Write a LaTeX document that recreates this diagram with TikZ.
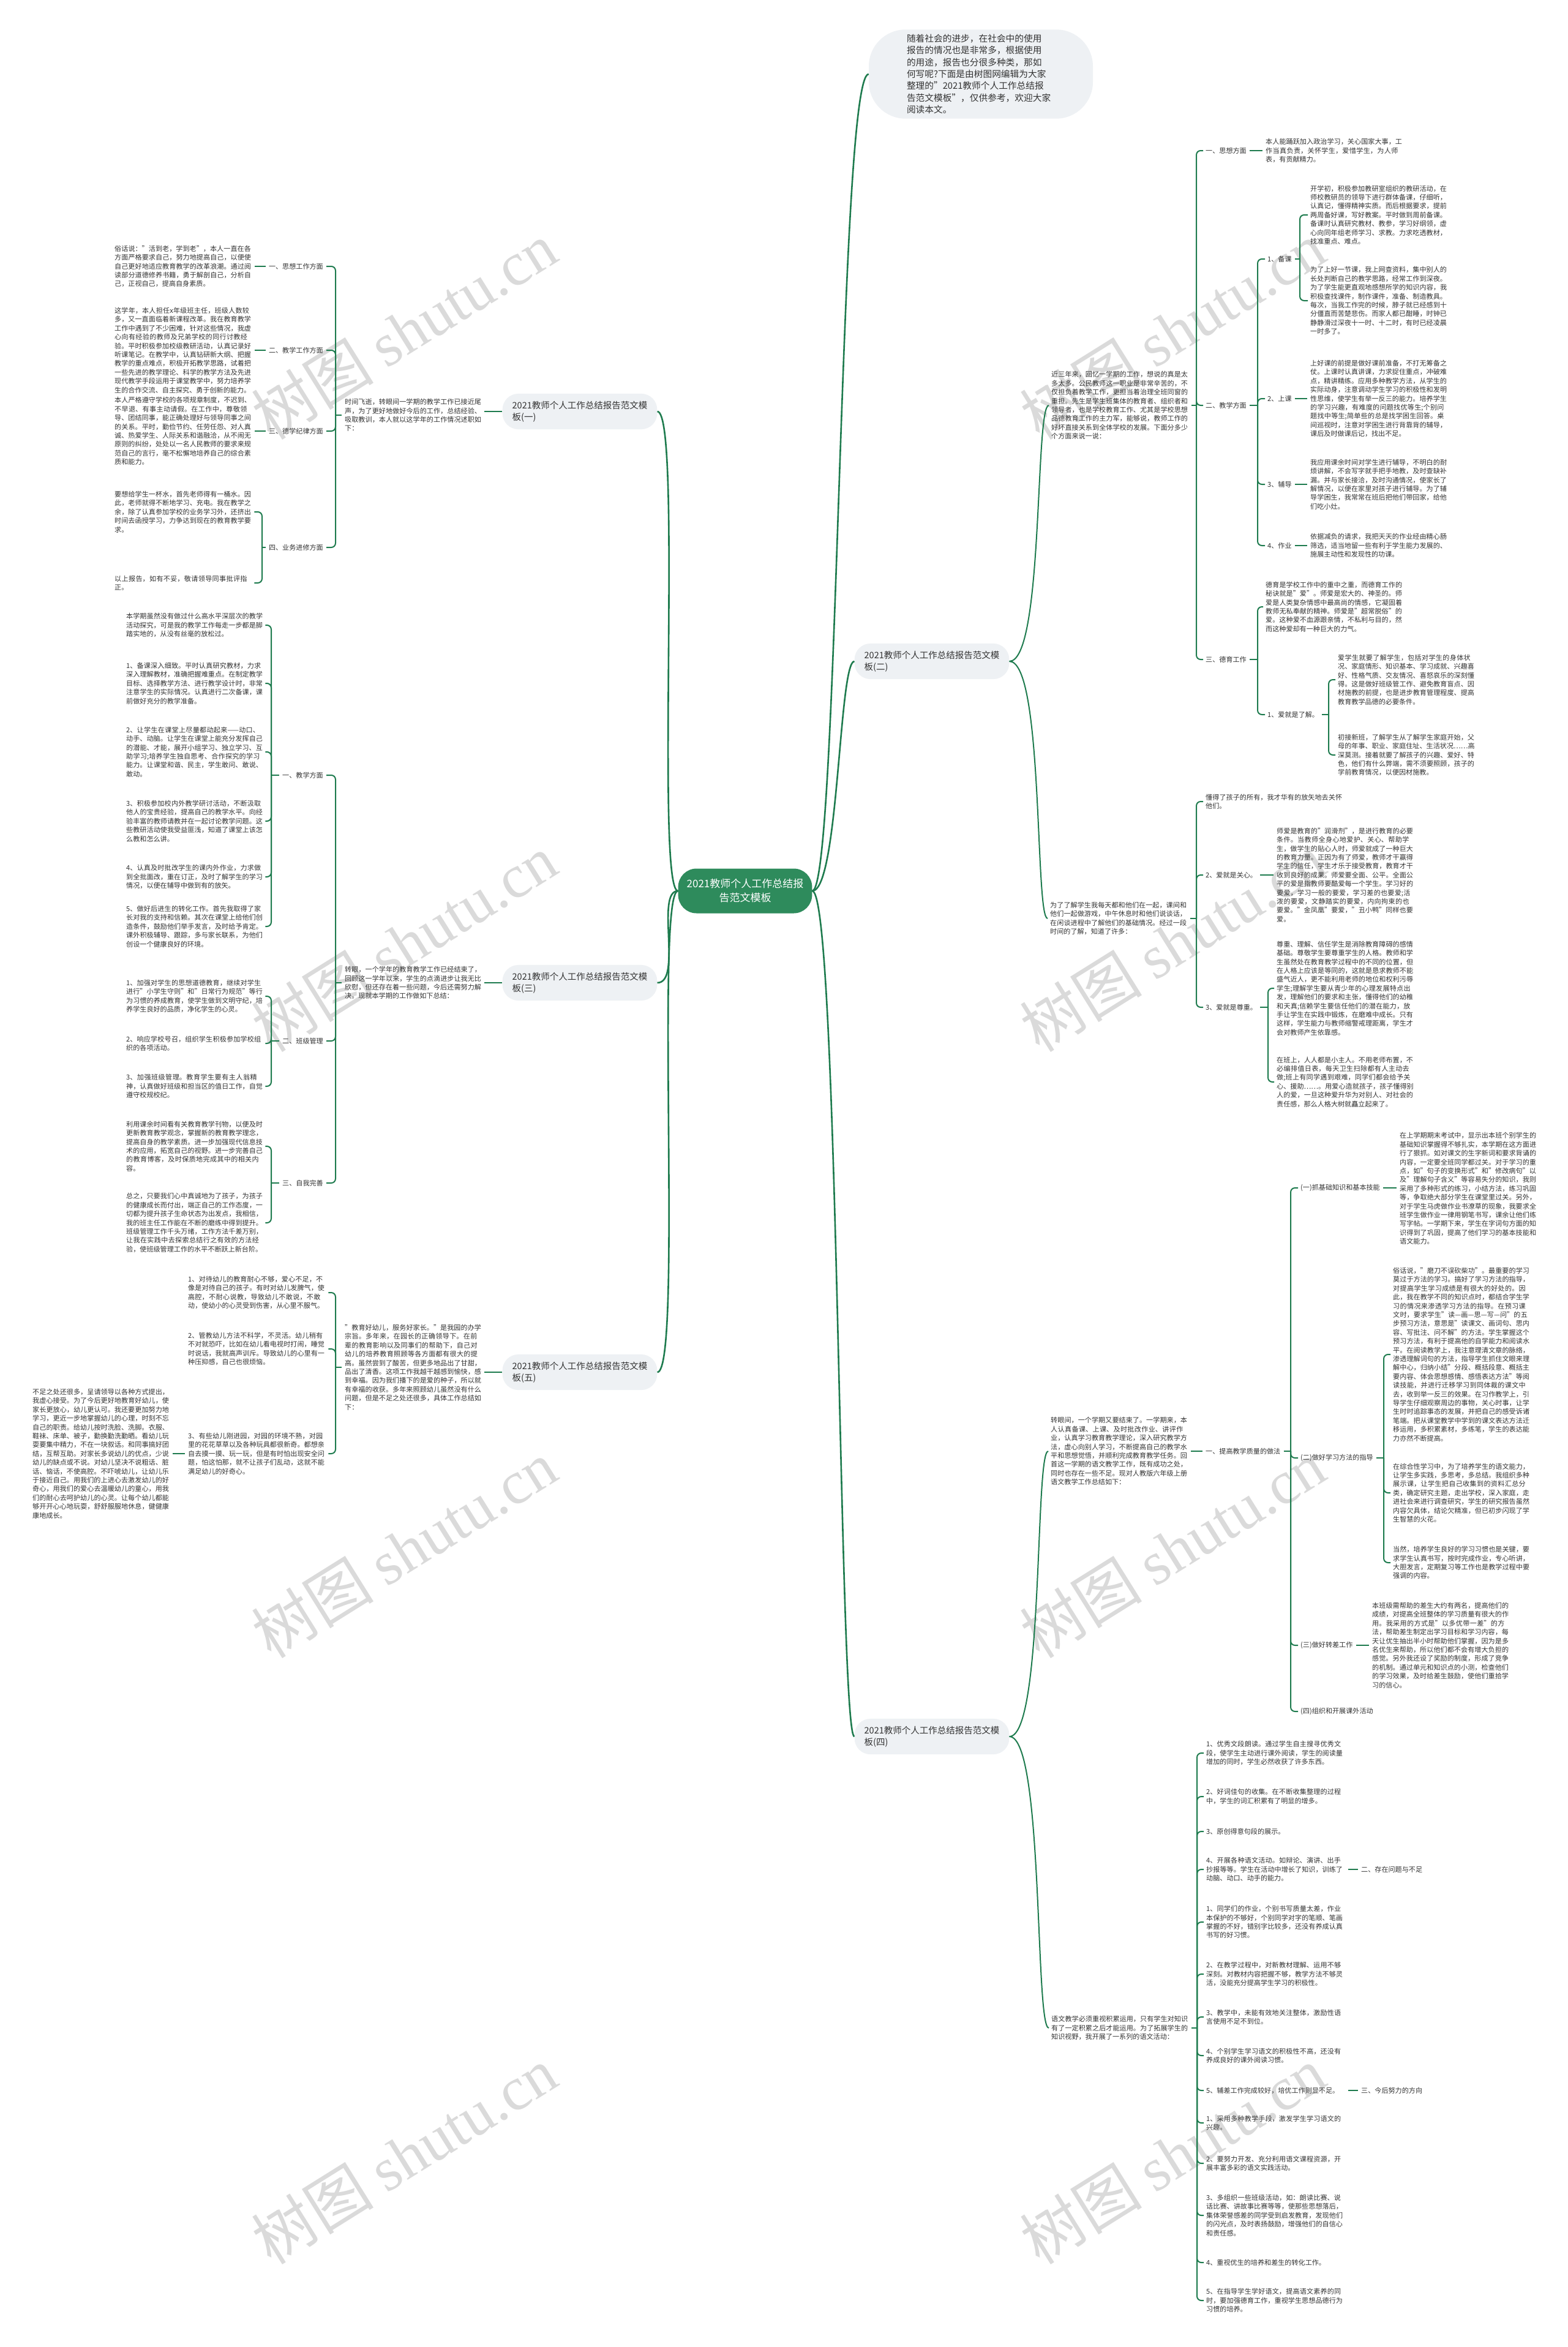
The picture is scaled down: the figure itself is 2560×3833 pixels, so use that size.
\documentclass[tikz,border=0pt]{standalone}
\usepackage{fontspec}
\setmainfont{Noto Sans CJK SC}
\newfontfamily\wmlatin{Liberation Serif}
\usetikzlibrary{calc}
\XeTeXlinebreaklocale "zh"
\XeTeXlinebreakskip=0pt plus 1pt
\definecolor{lc}{HTML}{1E7B4E}
\definecolor{bgc}{HTML}{EEF1F4}
\definecolor{cgc}{HTML}{2E8B5C}
\definecolor{tc}{HTML}{333333}
\definecolor{wmc}{HTML}{DADADA}
\newcommand\tfont{\fontsize{11.1}{14.4}\selectfont}
\newcommand\bubfont{\fontsize{14.5}{19}\selectfont}
\newcommand\introfont{\fontsize{14.7}{19.3}\selectfont}
\newcommand\cenfont{\fontsize{17}{23}\selectfont}
\newcommand\wmfont{\fontsize{100}{110}\selectfont}
\tikzset{
  con/.style={draw=lc, line width=2pt},
  conr/.style={con, rounded corners=7pt},
  mcon/.style={draw=lc, line width=2.6pt},
  txt/.style={font=\tfont, text=tc, text width=224pt, align=left, inner sep=0pt, anchor=west},
  lbl/.style={font=\tfont, text=tc, inner sep=0pt, anchor=west},
  lble/.style={font=\tfont, text=tc, inner sep=0pt, anchor=east},
  bub/.style={fill=bgc, rounded corners=26pt, font=\bubfont, text=tc, align=left, inner xsep=16pt, inner ysep=12pt},
  wm/.style={font=\wmfont, text=wmc, rotate=32, inner sep=0pt},
}
\begin{document}
\begin{tikzpicture}[x=1pt,y=-1pt]
\fill[white] (0,0) rectangle (2560,3833);
\useasboundingbox (0,0) rectangle (2560,3833);
% watermarks
\node[wm] (w1) at (660,540) {树图 {\wmlatin shutu.cn}};
\node[wm] (w2) at (1915,540) {树图 {\wmlatin shutu.cn}};
\node[wm] (w3) at (660,1540) {树图 {\wmlatin shutu.cn}};
\node[wm] (w4) at (1915,1540) {树图 {\wmlatin shutu.cn}};
\node[wm] (w5) at (660,2530) {树图 {\wmlatin shutu.cn}};
\node[wm] (w6) at (1915,2530) {树图 {\wmlatin shutu.cn}};
\node[wm] (w7) at (660,3520) {树图 {\wmlatin shutu.cn}};
\node[wm] (w8) at (1915,3520) {树图 {\wmlatin shutu.cn}};

% center and intro
\node[fill=cgc, text=white, font=\cenfont, rounded corners=30pt, align=center, minimum width=217pt, minimum height=73pt, inner xsep=14pt] (c) at (1217,1455) {2021教师个人工作总结报\\告范文模板};
\node[fill=bgc, rounded corners=60pt, font=\introfont, text=tc, text width=242pt, align=left, inner xsep=62pt, inner ysep=8pt] (intro) at (1602,121) {随着社会的进步，在社会中的使用\\报告的情况也是非常多，根据使用\\的用途，报告也分很多种类，那如\\何写呢?下面是由树图网编辑为大家\\整理的"2021教师个人工作总结报\\告范文模板"，仅供参考，欢迎大家\\阅读本文。};

% ===== Branch 1 (left) =====
\node[bub] (b1) at (947,672) {2021教师个人工作总结报告范文模\\板(一)};
\node[txt] (p1) at (563,678) {时间飞逝，转眼间一学期的教学工作已接近尾声，为了更好地做好今后的工作，总结经验、吸取教训，本人就以这学年的工作情况述职如下：};
\node[lble] (l11) at (528,435) {一、思想工作方面};
\node[lble] (l12) at (528,572) {二、教学工作方面};
\node[lble] (l13) at (528,704) {三、德学纪律方面};
\node[lble] (l14) at (528,894) {四、业务进修方面};
\node[txt] (a1) at (187,435) {俗话说："活到老，学到老"，本人一直在各方面严格要求自己，努力地提高自己，以便使自己更好地适应教育教学的改革浪潮。通过阅读部分道德修养书籍，勇于解剖自己，分析自己，正视自己，提高自身素质。};
\node[txt] (a2) at (187,572) {这学年，本人担任x年级班主任，班级人数较多，又一直面临着新课程改革。我在教育教学工作中遇到了不少困难，针对这些情况，我虚心向有经验的教师及兄弟学校的同行讨教经验。平时积极参加校级教研活动，认真记录好听课笔记。在教学中，认真钻研新大纲、把握教学的重点难点，积极开拓教学思路，试着把一些先进的教学理论、科学的教学方法及先进现代教学手段运用于课堂教学中，努力培养学生的合作交流、自主探究、勇于创新的能力。};
\node[txt] (a3) at (187,704) {本人严格遵守学校的各项规章制度，不迟到、不早退、有事主动请假。在工作中，尊敬领导、团结同事，能正确处理好与领导同事之间的关系。平时，勤俭节约、任劳任怨、对人真诚、热爱学生、人际关系和谐融洽，从不闹无原则的纠纷，处处以一名人民教师的要求来规范自己的言行，毫不松懈地培养自己的综合素质和能力。};
\node[txt] (a4) at (187,836) {要想给学生一杯水，首先老师得有一桶水。因此，老师就得不断地学习、充电。我在教学之余，除了认真参加学校的业务学习外，还挤出时间去函授学习，力争达到现在的教育教学要求。};
\node[txt] (a5) at (187,952) {以上报告，如有不妥，敬请领导同事批评指正。};

% ===== Branch 3 (left) =====
\node[bub] (b3) at (947,1605) {2021教师个人工作总结报告范文模\\板(三)};
\node[txt] (p3) at (563,1605) {转眼，一个学年的教育教学工作已经结束了，回顾这一学年以来，学生的点滴进步让我无比欣慰，但还存在着一些问题，今后还需努力解决。现就本学期的工作做如下总结：};
\node[lble] (l31) at (528,1266) {一、教学方面};
\node[lble] (l32) at (528,1700) {二、班级管理};
\node[lble] (l33) at (528,1932) {三、自我完善};
\node[txt] (q0) at (206,1021) {本学期虽然没有做过什么高水平深层次的教学活动探究，可是我的教学工作每走一步都是脚踏实地的，从没有丝毫的放松过。};
\node[txt] (q1) at (206,1116) {1、备课深入细致。平时认真研究教材，力求深入理解教材，准确把握难重点。在制定教学目标、选择教学方法、进行教学设计时，非常注意学生的实际情况。认真进行二次备课，课前做好充分的教学准备。};
\node[txt] (q2) at (206,1228) {2、让学生在课堂上尽量都动起来——动口、动手、动脑。让学生在课堂上能充分发挥自己的潜能、才能，展开小组学习、独立学习、互助学习;培养学生独自思考、合作探究的学习能力。让课堂和谐、民主，学生敢问、敢说、敢动。};
\node[txt] (q3) at (206,1341) {3、积极参加校内外教学研讨活动，不断汲取他人的宝贵经验，提高自己的教学水平。向经验丰富的教师请教并在一起讨论教学问题。这些教研活动使我受益匪浅，知道了课堂上该怎么教和怎么讲。};
\node[txt] (q4) at (206,1432) {4、认真及时批改学生的课内外作业，力求做到全批面改，重在订正，及时了解学生的学习情况，以便在辅导中做到有的放矢。};
\node[txt] (q5) at (206,1513) {5、做好后进生的转化工作。首先我取得了家长对我的支持和信赖。其次在课堂上给他们创造条件，鼓励他们举手发言，及时给予肯定。课外积极辅导、跟踪，多与家长联系，为他们创设一个健康良好的环境。};
\node[txt] (r1) at (206,1627) {1、加强对学生的思想道德教育，继续对学生进行"小学生守则"和"日常行为规范"等行为习惯的养成教育，使学生做到文明守纪，培养学生良好的品质，净化学生的心灵。};
\node[txt] (r2) at (206,1704) {2、响应学校号召，组织学生积极参加学校组织的各项活动。};
\node[txt] (r3) at (206,1774) {3、加强班级管理。教育学生要有主人翁精神，认真做好班级和担当区的值日工作，自觉遵守校规校纪。};
\node[txt] (d1) at (206,1872) {利用课余时间看有关教育教学刊物，以便及时更新教育教学观念，掌握新的教育教学理念，提高自身的教学素质。进一步加强现代信息技术的应用，拓宽自己的视野。进一步完善自己的教育博客，及时保质地完成其中的相关内容。};
\node[txt] (d2) at (206,1997) {总之，只要我们心中真诚地为了孩子，为孩子的健康成长而付出，端正自己的工作态度，一切都为提升孩子生命状态为出发点，我相信，我的班主任工作能在不断的磨练中得到提升。班级管理工作千头万绪，工作方法千差万别，让我在实践中去探索总结行之有效的方法经验，使班级管理工作的水平不断跃上新台阶。};

% ===== Branch 5 (left) =====
\node[bub] (b5) at (947,2241) {2021教师个人工作总结报告范文模\\板(五)};
\node[txt] (p5) at (563,2233) {"教育好幼儿，服务好家长。"是我园的办学宗旨。多年来，在园长的正确领导下。在前辈的教育影响以及同事们的帮助下，自己对幼儿的培养教育照顾等各方面都有很大的提高。虽然尝到了酸苦，但更多地品出了甘甜，品出了清香。这项工作我越干越感到愉快，感到幸福。因为我们播下的是爱的种子，所以就有幸福的收获。多年来照顾幼儿虽然没有什么问题，但是不足之处还很多，具体工作总结如下：};
\node[txt] (e1) at (307,2111) {1、对待幼儿的教育耐心不够，爱心不足，不像是对待自己的孩子。有时对幼儿发脾气，使高腔，不耐心说教，导致幼儿不敢说，不敢动，使幼小的心灵受到伤害，从心里不服气。};
\node[txt] (e2) at (307,2203) {2、管教幼儿方法不科学，不灵活。幼儿稍有不对就恐吓，比如在幼儿看电视时打闹，睡觉时说话，我就高声训斥。导致幼儿的心里有一种压抑感，自己也很烦恼。};
\node[txt] (e3) at (307,2374) {3、有些幼儿刚进园，对园的环境不熟，对园里的花花草草以及各种玩具都很新奇。都想亲自去摸一摸、玩一玩，但是有时怕出现安全问题，怕这怕那，就不让孩子们乱动，这就不能满足幼儿的好奇心。};
\node[txt] (e4) at (53,2374) {不足之处还很多，呈请领导以各种方式提出，我虚心接受。为了今后更好地教育好幼儿，使家长更放心，幼儿更认可。我还要更加努力地学习，更近一步地掌握幼儿的心理，时刻不忘自己的职责。给幼儿按时洗脸、洗脚。衣服、鞋袜、床单、被子，勤换勤洗勤晒。看幼儿玩耍要集中精力，不在一块叙话。和同事搞好团结，互帮互助。对家长多说幼儿的优点，少说幼儿的缺点或不说。对幼儿坚决不说粗话、脏话、恼话，不使高腔。不吓唬幼儿，让幼儿乐于接近自己。用我们的上进心去激发幼儿的好奇心，用我们的爱心去温暖幼儿的童心，用我们的耐心去呵护幼儿的心灵。让每个幼儿都能够开开心心地玩耍，舒舒服服地休息，健健康康地成长。};

% ===== Branch 2 (right) =====
\node[bub] (b2) at (1522,1080) {2021教师个人工作总结报告范文模\\板(二)};
\node[txt] (qq) at (1717,662) {近三年来，回忆一学期的工作，想说的真是太多太多。公民教师这一职业是非常辛苦的，不仅担负着教学工作，更担当着治理全班同窗的重担。先生是学生班集体的教育者、组织者和领导者，也是学校教育工作、尤其是学校思想品德教育工作的主力军，能够说，教师工作的好坏直接关系到全体学校的发展。下面分多少个方面来说一说：};
\node[lbl] (l21) at (1969,246) {一、思想方面};
\node[lbl] (l22) at (1969,662) {二、教学方面};
\node[lbl] (l23) at (1969,1077) {三、德育工作};
\node[txt] (t21) at (2067,246) {本人能踊跃加入政治学习，关心国家大事，工作当真负责，关怀学生，爱惜学生，为人师表，有贡献精力。};
\node[lbl] (l221) at (2070,423) {1、备课};
\node[lbl] (l222) at (2070,651) {2、上课};
\node[lbl] (l223) at (2070,791) {3、辅导};
\node[lbl] (l224) at (2070,891) {4、作业};
\node[txt] (k1) at (2140,351) {开学初，积极参加教研室组织的教研活动，在师校教研员的领导下进行群体备课，仔细听，认真记，懂得精神实质。而后根据要求，提前两周备好课，写好教案。平时做到周前备课。备课时认真研究教材、教参，学习好纲领，虚心向同年组老师学习、求教。力求吃透教材，找准重点、难点。};
\node[txt] (k2) at (2140,491) {为了上好一节课，我上网查资料，集中别人的长处判断自己的教学思路，经常工作到深夜。为了学生能更直观地感想所学的知识内容，我积极查找课件，制作课件，准备、制造教具。每次，当我工作完的时候，脖子就已经感到十分僵直而苦楚悲伤。而家人都已酣睡，时钟已静静滑过深夜十一时、十二时，有时已经凌晨一时多了。};
\node[txt] (k3) at (2140,651) {上好课的前提是做好课前准备，不打无筹备之仗。上课时认真讲课，力求捉住重点，冲破难点，精讲精练。应用多种教学方法，从学生的实际动身，注意调动学生学习的积极性和发明性思维，使学生有举一反三的能力。培养学生的学习兴趣，有难度的问题找优等生;个别问题找中等生;简单些的总是找学困生回答。桌间巡视时，注意对学困生进行背靠背的辅导，课后及时做课后记，找出不足。};
\node[txt] (k4) at (2140,791) {我应用课余时间对学生进行辅导，不明白的耐烦讲解，不会写字就手把手地教，及时查缺补漏。并与家长接洽，及时沟通情况，使家长了解情况，以便在家里对孩子进行辅导。为了辅导学困生，我常常在班后把他们带回家，给他们吃小灶。};
\node[txt] (k5) at (2140,891) {依据减负的请求，我把天天的作业经由精心肠筛选，适当地留一些有利于学生能力发展的、施展主动性和发现性的功课。};
\node[txt] (t23) at (2067,991) {德育是学校工作中的重中之重，而德育工作的秘诀就是"爱"。师爱是宏大的、神圣的。师爱是人类复杂情感中最高尚的情感，它凝固着教师无私奉献的精神。师爱是"超常脱俗"的爱。这种爱不血源跟亲情，不私利与目的，然而这种爱却有一种巨大的力气。};
\node[lbl] (l231) at (2070,1167) {1、爱就是了解。};
\node[txt] (u1) at (2185,1110) {爱学生就要了解学生，包括对学生的身体状况、家庭情形、知识基本、学习成就、兴趣喜好、性格气质、交友情况、喜怒哀乐的深刻懂得。这是做好班级管工作、避免教育盲点、因材施教的前提，也是进步教育管理程度、提高教育教学品德的必要条件。};
\node[txt] (u2) at (2185,1233) {初接新班，了解学生从了解学生家庭开始，父母的年事、职业、家庭住址、生活状况……高深莫测。接着就要了解孩子的兴趣、爱好、特色，他们有什么弊端，需不须要照顾，孩子的学前教育情况，以便因材施教。};
\node[txt] (rr) at (1715,1500) {为了了解学生我每天都和他们在一起，课间和他们一起做游戏，中午休息时和他们说谈话，在闲谈进程中了解他们的基础情况。经过一段时间的了解，知道了许多：};
\node[txt] (v1) at (1969,1309) {懂得了孩子的所有，我才华有的放矢地去关怀他们。};
\node[lbl] (l252) at (1969,1429) {2、爱就是关心。};
\node[lbl] (l253) at (1969,1645) {3、爱就是尊重。};
\node[txt] (v2) at (2085,1429) {师爱是教育的"润滑剂"，是进行教育的必要条件。当教师全身心地爱护、关心、帮助学生，做学生的贴心人时，师爱就成了一种巨大的教育力量。正因为有了师爱，教师才干赢得学生的信任，学生才乐于接受教育，教育才干收到良好的成果。师爱要全面、公平。全面公平的爱是指教师要酷爱每一个学生。学习好的要爱，学习一般的要爱，学习差的也要爱;活泼的要爱，文静踏实的要爱，内向拘束的也要爱。"金凤凰"要爱，"丑小鸭"同样也要爱。};
\node[txt] (v3) at (2085,1614) {尊重、理解、信任学生是消除教育障碍的感情基础。尊敬学生要尊重学生的人格。教师和学生虽然处在教育教学过程中的不同的位置，但在人格上应该是等同的，这就是恳求教师不能盛气近人，更不能利用老师的地位和权利污辱学生;理解学生要从青少年的心理发展特点出发，理解他们的要求和主张，懂得他们的幼稚和天真;信赖学生要信任他们的潜在能力，放手让学生在实践中锻炼，在磨难中成长。只有这样，学生能力与教师缩警戒理距离，学生才会对教师产生依靠感。};
\node[txt] (v4) at (2085,1767) {在班上，人人都是小主人。不用老师布置，不必编排值日表，每天卫生扫除都有人主动去做;班上有同学遇到艰难，同学们都会给予关心、援助……。用爱心造就孩子，孩子懂得别人的爱，一旦这种爱升华为对别人、对社会的责任感，那么人格大树就矗立起来了。};

% ===== Branch 4 (right) =====
\node[bub] (b4) at (1522,2836) {2021教师个人工作总结报告范文模\\板(四)};
\node[txt] (tt) at (1716,2370) {转眼间，一个学期又要结束了。一学期来，本人认真备课、上课、及时批改作业、讲评作业，认真学习教育教学理论，深入研究教学方法，虚心向别人学习，不断提高自己的教学水平和思想觉悟，并顺利完成教育教学任务。回首这一学期的语文教学工作，既有成功之处，同时也存在一些不足。现对人教版六年级上册语文教学工作总结如下：};
\node[lbl] (l41) at (1969,2370) {一、提高教学质量的做法};
\node[lbl] (m1) at (2124,1940) {(一)抓基础知识和基本技能};
\node[lbl] (m2) at (2124,2381) {(二)做好学习方法的指导};
\node[lbl] (m3) at (2124,2687) {(三)做好转差工作};
\node[lbl] (m4) at (2124,2795) {(四)组织和开展课外活动};
\node[txt] (n1) at (2286,1941) {在上学期期末考试中，显示出本班个别学生的基础知识掌握得不够扎实，本学期在这方面进行了狠抓。如对课文的生字新词和要求背诵的内容，一定要全班同学都过关。对于学习的重点，如"句子的变换形式"和"修改病句"以及"理解句子含义"等容易失分的知识，我则采用了多种形式的练习，小结方法，练习巩固等，争取绝大部分学生在课堂里过关。另外，对于学生马虎做作业书潦草的现象，我要求全班学生做作业一律用钢笔书写，课余让他们练写字帖。一学期下来，学生在字词句方面的知识得到了巩固，提高了他们学习的基本技能和语文能力。};
\node[txt] (f1) at (2275,2212) {俗话说，"磨刀不误砍柴功"。最重要的学习莫过于方法的学习。搞好了学习方法的指导，对提高学生学习成绩是有很大的好处的。因此，我在教学不同的知识点时，都结合学生学习的情况来渗透学习方法的指导。在预习课文时，要求学生"读—画—思—写—问"的五步预习方法，意思是"读课文、画词句、思内容、写批注、问不解"的方法。学生掌握这个预习方法，有利于提高他的自学能力和阅读水平。在阅读教学上，我注意理清文章的脉络，渗透理解词句的方法，指导学生抓住文眼来理解中心，归纳小结"分段、概括段意、概括主要内容、体会思想感情、感悟表达方法"等阅读技能，并进行迁移学习到同体裁的课文中去，收到举一反三的效果。在习作教学上，引导学生仔细观察周边的事物，关心时事，让学生时时追踪事态的发展，并把自己的感受诉诸笔端。把从课堂教学中学到的课文表达方法迁移运用，多积累素材，多练笔，学生的表达能力亦然不断提高。};
\node[txt] (f2) at (2275,2438) {在综合性学习中，为了培养学生的语文能力，让学生多实践，多思考，多总结。我组织多种展示课，让学生把自己收集到的资料汇总分类，确定研究主题，走出学校，深入家庭，走进社会来进行调查研究，学生的研究报告虽然内容欠具体，结论欠精准，但已初步闪现了学生智慧的火花。};
\node[txt] (f3) at (2275,2552) {当然，培养学生良好的学习习惯也是关键，要求学生认真书写，按时完成作业，专心听讲，大胆发言，定期复习等工作也是教学过程中要强调的内容。};
\node[txt] (n3) at (2241,2687) {本班级需帮助的差生大约有两名，提高他们的成绩，对提高全班整体的学习质量有很大的作用。我采用的方式是"以多优带一差"的方法，帮助差生制定出学习目标和学习内容，每天让优生抽出半小时帮助他们掌握，因为是多名优生来帮助，所以他们都不会有增大负担的感觉。另外我还设了奖励的制度，形成了竞争的机制。通过单元和知识点的小测，检查他们的学习效果，及时给差生鼓励，使他们重拾学习的信心。};
\node[txt] (uu) at (1717,3312) {语文教学必须重视积累运用，只有学生对知识有了一定积累之后才能运用。为了拓展学生的知识视野，我开展了一系列的语文活动：};
\node[txt] (i1) at (1970,2863) {1、优秀文段朗读。通过学生自主搜寻优秀文段，使学生主动进行课外阅读，学生的阅读量增加的同时，学生必然收获了许多东西。};
\node[txt] (i2) at (1970,2934) {2、好词佳句的收集。在不断收集整理的过程中，学生的词汇积累有了明显的增多。};
\node[txt] (i3) at (1970,2991) {3、原创得意句段的展示。};
\node[txt] (i4) at (1970,3053) {4、开展各种语文活动。如辩论、演讲、出手抄报等等。学生在活动中增长了知识，训练了动脑、动口、动手的能力。};
\node[txt] (j1) at (1970,3139) {1、同学们的作业，个别书写质量太差，作业本保护的不够好，个别同学对字的笔顺、笔画掌握的不好，错别字比较多，还没有养成认真书写的好习惯。};
\node[txt] (j2) at (1970,3224) {2、在教学过程中，对新教材理解、运用不够深刻。对教材内容把握不够，教学方法不够灵活，没能充分提高学生学习的积极性。};
\node[txt] (j3) at (1970,3294) {3、教学中，未能有效地关注整体，激励性语言使用不足不到位。};
\node[txt] (j4) at (1970,3357) {4、个别学生学习语文的积极性不高，还没有养成良好的课外阅读习惯。};
\node[txt] (j5) at (1970,3414) {5、辅差工作完成较好，培优工作则显不足。};
\node[txt] (k6) at (1970,3467) {1、采用多种教学手段，激发学生学习语文的兴趣。};
\node[txt] (k7) at (1970,3533) {2、要努力开发、充分利用语文课程资源，开展丰富多彩的语文实践活动。};
\node[txt] (k8) at (1970,3618) {3、多组织一些班级活动，如：朗读比赛、说话比赛、讲故事比赛等等，使那些思想落后，集体荣誉感差的同学受到启发教育，发现他们的闪光点，及时表扬鼓励，增强他们的自信心和责任感。};
\node[txt] (k9) at (1970,3695) {4、重视优生的培养和差生的转化工作。};
\node[txt] (k10) at (1970,3757) {5、在指导学生学好语文，提高语文素养的同时，要加强德育工作，重视学生思想品德行为习惯的培养。};
\node[lbl] (x2) at (2223,3053) {二、存在问题与不足};
\node[lbl] (x3) at (2223,3414) {三、今后努力的方向};

% ===== main connectors =====
\draw[mcon] (c.west) .. controls (1070,1455) and (1115,672) .. (b1.east);
\draw[mcon] (c.west) .. controls (1070,1455) and (1115,1605) .. (b3.east);
\draw[mcon] (c.west) .. controls (1070,1455) and (1115,2241) .. (b5.east);
\draw[mcon] (c.east) .. controls (1370,1455) and (1370,1080) .. (b2.west);
\draw[mcon] (c.east) .. controls (1370,1455) and (1370,2836) .. (b4.west);
\draw[mcon] (c.east) .. controls (1370,1455) and (1370,121) .. (intro.west);

% branch 1
\draw[con, shorten >=4pt] (b1.west) -- (p1.east |- b1.west);
\coordinate (s1) at (548,678);
\draw[con, shorten <=5pt] (p1.west) -- (s1);
\foreach \n in {l11,l12,l13,l14} \draw[conr, shorten >=5pt] (s1) |- (\n.east);
\foreach \n in {1,2,3} \draw[con, shorten <=5pt, shorten >=5pt] (l1\n.west) -- (a\n.east);
\coordinate (s14) at (428,894);
\draw[con, shorten <=5pt] (l14.west) -- (s14);
\draw[conr, shorten >=4pt] (s14) |- (a4.east);
\draw[conr, shorten >=4pt] (s14) |- (a5.east);

% branch 3
\draw[con, shorten >=4pt] (b3.west) -- (p3.east |- b3.west);
\coordinate (s3) at (548,1605);
\draw[con, shorten <=5pt] (p3.west) -- (s3);
\foreach \n in {l31,l32,l33} \draw[conr, shorten >=5pt] (s3) |- (\n.east);
\coordinate (s31) at (443,1266);
\draw[con, shorten <=5pt] (l31.west) -- (s31);
\foreach \n in {q0,q1,q2,q3,q4,q5} \draw[conr, shorten >=3pt] (s31) |- (\n.east);
\coordinate (s32) at (443,1700);
\draw[con, shorten <=5pt] (l32.west) -- (s32);
\foreach \n in {r1,r2,r3} \draw[conr, shorten >=3pt] (s32) |- (\n.east);
\coordinate (s33) at (443,1932);
\draw[con, shorten <=5pt] (l33.west) -- (s33);
\foreach \n in {d1,d2} \draw[conr, shorten >=3pt] (s33) |- (\n.east);

% branch 5
\draw[con, shorten >=4pt] (b5.west) -- (p5.east |- b5.west);
\coordinate (s5) at (548,2233);
\draw[con, shorten <=5pt] (p5.west) -- (s5);
\foreach \n in {e1,e2,e3} \draw[conr, shorten >=5pt] (s5) |- (\n.east);
\draw[con, shorten <=5pt, shorten >=5pt] (e3.west) -- (e4.east |- e3.west);

% branch 2
\draw[con] (b2.east) .. controls (1705,1080) and (1690,662) .. ([xshift=-4pt]qq.west);
\draw[con] (b2.east) .. controls (1705,1080) and (1690,1500) .. ([xshift=-4pt]rr.west);
\coordinate (s2) at (1954,662);
\draw[con, shorten <=5pt] (qq.east) -- (s2);
\foreach \n in {l21,l22,l23} \draw[conr, shorten >=4pt] (s2) |- (\n.west);
\draw[con, shorten <=5pt, shorten >=5pt] (l21.east) -- (t21.west);
\coordinate (s22) at (2054,662);
\draw[con, shorten <=5pt] (l22.east) -- (s22);
\foreach \n in {l221,l222,l223,l224} \draw[conr, shorten >=4pt] (s22) |- (\n.west);
\coordinate (s221) at (2123,423);
\draw[con, shorten <=5pt] (l221.east) -- (s221);
\foreach \n in {k1,k2} \draw[conr, shorten >=4pt] (s221) |- (\n.west);
\draw[con, shorten <=5pt, shorten >=5pt] (l222.east) -- (k3.west);
\draw[con, shorten <=5pt, shorten >=5pt] (l223.east) -- (k4.west);
\draw[con, shorten <=5pt, shorten >=5pt] (l224.east) -- (k5.west);
\coordinate (s23) at (2054,1077);
\draw[con, shorten <=5pt] (l23.east) -- (s23);
\foreach \n in {t23,l231} \draw[conr, shorten >=4pt] (s23) |- (\n.west);
\coordinate (s231) at (2170,1167);
\draw[con, shorten <=5pt] (l231.east) -- (s231);
\foreach \n in {u1,u2} \draw[conr, shorten >=4pt] (s231) |- (\n.west);
\coordinate (s25) at (1954,1500);
\draw[con, shorten <=5pt] (rr.east) -- (s25);
\foreach \n in {v1,l252,l253} \draw[conr, shorten >=4pt] (s25) |- (\n.west);
\draw[con, shorten <=5pt, shorten >=5pt] (l252.east) -- (v2.west);
\coordinate (s253) at (2071,1645);
\draw[con, shorten <=5pt] (l253.east) -- (s253);
\foreach \n in {v3,v4} \draw[conr, shorten >=4pt] (s253) |- (\n.west);

% branch 4
\draw[con] (b4.east) .. controls (1705,2836) and (1690,2370) .. ([xshift=-4pt]tt.west);
\draw[con] (b4.east) .. controls (1705,2836) and (1690,3312) .. ([xshift=-4pt]uu.west);
\draw[con, shorten <=5pt, shorten >=5pt] (tt.east) -- (l41.west);
\coordinate (s41) at (2108,2370);
\draw[con, shorten <=5pt] (l41.east) -- (s41);
\foreach \n in {m1,m2,m3,m4} \draw[conr, shorten >=4pt] (s41) |- (\n.west);
\draw[con, shorten <=5pt, shorten >=5pt] (m1.east) -- (n1.west |- m1.east);
\coordinate (s42) at (2260,2381);
\draw[con, shorten <=5pt] (m2.east) -- (s42);
\foreach \n in {f1,f2,f3} \draw[conr, shorten >=4pt] (s42) |- (\n.west);
\draw[con, shorten <=5pt, shorten >=5pt] (m3.east) -- (n3.west);
\coordinate (s43) at (1955,3312);
\draw[con, shorten <=5pt] (uu.east) -- (s43);
\foreach \n in {i1,i2,i3,i4,j1,j2,j3,j4,j5,k6,k7,k8,k9,k10} \draw[conr, shorten >=4pt] (s43) |- (\n.west);
\draw[con, shorten <=8pt, shorten >=5pt] (i4.east) -- (x2.west);
\draw[con, shorten <=8pt, shorten >=5pt] (j5.east) -- (x3.west);
\end{tikzpicture}
\end{document}
